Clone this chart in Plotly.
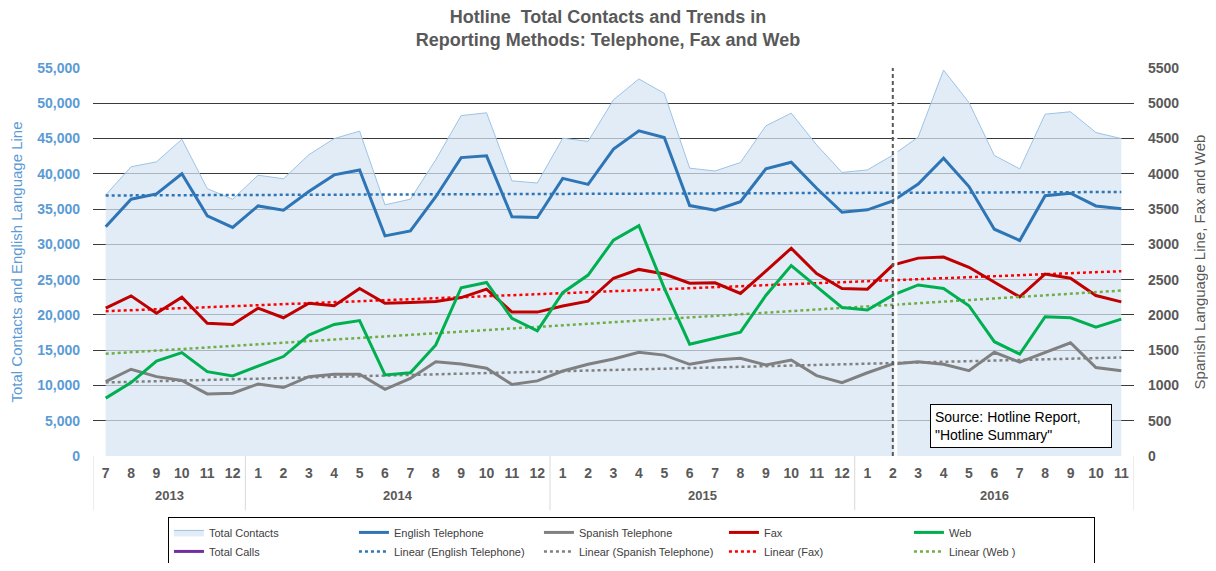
import numpy as np
import plotly.graph_objects as go

# ---------------------------------------------------------------------------
# Data
# ---------------------------------------------------------------------------
years = ["2013"] * 6 + ["2014"] * 12 + ["2015"] * 12 + ["2016"] * 11
months = ([str(m) for m in range(7, 13)] + [str(m) for m in range(1, 13)] * 2
          + [str(m) for m in range(1, 12)])

total_contacts = [
    37000, 41000, 41700, 44900, 37900, 36400,
    39800, 39300, 42700, 45000, 46050, 35600, 36400, 42000, 48250, 48650, 39000, 38700,
    45050, 44600, 50500, 53450, 51400, 40800, 40400, 41600, 46800, 48600, 44100, 40200,
    40550, 42650, 45200, 54700, 50100, 42600, 40700, 48450, 48800, 45850, 45000,
]
english_tel = [
    32500, 36400, 37150, 40000, 34050, 32400,
    35450, 34850, 37500, 39850, 40550, 31200, 31900, 36750, 42300, 42550, 33900, 33800,
    39350, 38500, 43500, 46100, 45150, 35500, 34850, 36050, 40700, 41650, 37950, 34550,
    34900, 36150, 38550, 42200, 38200, 32150, 30550, 36900, 37250, 35450, 35050,
]
spanish_tel = [
    1055, 1230, 1125, 1070, 880, 890,
    1020, 970, 1125, 1160, 1160, 945, 1100, 1335, 1305, 1245, 1015, 1065,
    1205, 1300, 1375, 1470, 1430, 1300, 1360, 1385, 1290, 1360, 1140, 1040,
    1180, 1305, 1335, 1300, 1210, 1470, 1330, 1470, 1605, 1255, 1210,
]
fax = [
    2095, 2270, 2025, 2250, 1880, 1865,
    2095, 1960, 2165, 2130, 2375, 2165, 2175, 2190, 2245, 2365, 2040, 2040,
    2125, 2195, 2520, 2645, 2580, 2450, 2455, 2305, 2620, 2945, 2585, 2375,
    2365, 2705, 2805, 2820, 2675, 2470, 2255, 2580, 2520, 2275, 2185,
]
web = [
    820, 1040, 1345, 1465, 1195, 1135,
    1275, 1410, 1715, 1865, 1920, 1150, 1180, 1575, 2385, 2460, 1950, 1775,
    2315, 2565, 3060, 3265, 2380, 1585, 1670, 1755, 2275, 2700, 2400, 2105,
    2070, 2280, 2425, 2375, 2130, 1620, 1445, 1975, 1960, 1825, 1940,
]
total_calls = []  # listed in the legend only, not drawn

marker_month = ("2016", "2")  # dashed reference line

# ---------------------------------------------------------------------------
# Styling
# ---------------------------------------------------------------------------
FONT = "Liberation Sans, Arial, sans-serif"
NARROW = "Liberation Sans Narrow, Arial Narrow, Liberation Sans, sans-serif"
BLUE_AX = "#5B9BD5"
GREY_AX = "#595959"

idx = np.arange(len(months))


def _trend(values):
    slope, icpt = np.polyfit(idx, values, 1)
    return slope * idx + icpt


fig = go.Figure()

fig.add_trace(go.Scatter(
    x=idx, y=total_contacts, name="Total Contacts", mode="lines",
    fill="tozeroy", fillcolor="rgba(215,229,244,0.72)",
    line=dict(color="#9DC3E6", width=1), legendrank=1))

fig.add_trace(go.Scatter(
    x=idx, y=_trend(english_tel), name="Linear (English Telephone)", mode="lines",
    line=dict(color="#2E75B6", width=2.5, dash="dot"), legendrank=7))
fig.add_trace(go.Scatter(
    x=idx, y=english_tel, name="English Telephone", mode="lines",
    line=dict(color="#2E75B6", width=3), legendrank=2))

for name, vals, col, tcol, rank in [
    ("Spanish Telephone", spanish_tel, "#808080", "#808080", 3),
    ("Fax", fax, "#C00000", "#FF0000", 4),
    ("Web", web, "#00B050", "#70AD47", 5),
]:
    fig.add_trace(go.Scatter(
        x=idx, y=_trend(vals), name=f"Linear ({name})" if name != "Web" else "Linear (Web )",
        mode="lines", yaxis="y2",
        line=dict(color=tcol, width=2.5, dash="dot"), legendrank=rank + 5))
    fig.add_trace(go.Scatter(
        x=idx, y=vals, name=name, mode="lines", yaxis="y2",
        line=dict(color=col, width=3), legendrank=rank))

fig.add_trace(go.Scatter(
    x=[None], y=[None] if not total_calls else total_calls, name="Total Calls",
    mode="lines", line=dict(color="#7030A0", width=3), legendrank=6))

# dashed marker at Feb 2016
mpos = list(zip(years, months)).index(marker_month)
fig.add_shape(type="line", xref="x", yref="paper", x0=mpos + 0.12, x1=mpos + 0.12,
              y0=0, y1=1, line=dict(color="white", width=3), layer="above")
fig.add_shape(type="line", xref="x", yref="paper", x0=mpos, x1=mpos, y0=0, y1=1,
              line=dict(color="#595959", width=2, dash="4px,3px"), layer="above")

# year groups under the month labels
year_names = list(dict.fromkeys(years))
bounds = [-0.5]
for yr in year_names:
    pos = [i for i, v in enumerate(years) if v == yr]
    bounds.append(pos[-1] + 0.5)
    fig.add_annotation(text=f"<b>{yr}</b>", x=float(np.mean(pos)), xref="x",
                       y=-0.103, yref="paper", yanchor="middle", showarrow=False,
                       font=dict(family=FONT, size=13, color=GREY_AX))
for b in bounds:
    fig.add_shape(type="line", xref="x", yref="paper", x0=b, x1=b, y0=0, y1=-0.14,
                  line=dict(color="#D9D9D9", width=1))

fig.add_annotation(
    text="Source: Hotline Report,<br>\"Hotline Summary\"",
    xref="paper", yref="paper", x=0.804, y=0.021, xanchor="left", yanchor="bottom",
    align="left", showarrow=False, bgcolor="white", bordercolor="black",
    borderwidth=1, borderpad=4, width=172,
    font=dict(family=FONT, size=14, color="black"))

# the page body adds an 8px offset, so the figure is sized to sit inside it
fig.update_layout(
    width=1200, height=555,
    margin=dict(l=85, r=74, t=60, b=107, autoexpand=False),
    paper_bgcolor="white", plot_bgcolor="white",
    font=dict(family=FONT),
    title=dict(
        text="<b>Hotline  Total Contacts and Trends in<br>Reporting Methods: Telephone, Fax and Web</b>",
        x=0.5, xanchor="center", y=1 - 14.5 / 555, yanchor="middle",
        font=dict(family=NARROW, size=18, color=GREY_AX)),
    xaxis=dict(
        range=[-0.5, len(months) - 0.5], tickmode="array",
        tickvals=idx, ticktext=months, showgrid=False, ticks="",
        zeroline=False, showline=False, automargin=False, ticklabelstandoff=7,
        tickfont=dict(family=FONT, size=14, color=GREY_AX, weight="bold")),
    yaxis=dict(
        range=[0, 55000], dtick=5000, tickformat=",d", automargin=False,
        showgrid=True, gridcolor="#3A3A3A", gridwidth=1, zeroline=False,
        tickfont=dict(family=FONT, size=14, color=BLUE_AX, weight="bold"),
        ticklabelstandoff=12,
        title=dict(text="Total Contacts and English Language Line",
                   font=dict(family=FONT, size=15, color=BLUE_AX), standoff=10)),
    yaxis2=dict(
        range=[0, 5500], dtick=500, overlaying="y", side="right", automargin=False,
        showgrid=False, zeroline=False,
        tickfont=dict(family=FONT, size=14, color=GREY_AX, weight="bold"),
        ticklabelstandoff=13,
        title=dict(text="Spanish Language Line, Fax and Web",
                   font=dict(family=FONT, size=15, color=GREY_AX), standoff=22)),
    legend=dict(
        orientation="h", x=0.072, xanchor="left", y=-0.157, yanchor="top",
        bgcolor="white", bordercolor="black", borderwidth=1,
        entrywidth=140, itemwidth=30,
        font=dict(family=NARROW, size=11, color="#404040")),
)

fig.write_html("out.html")
